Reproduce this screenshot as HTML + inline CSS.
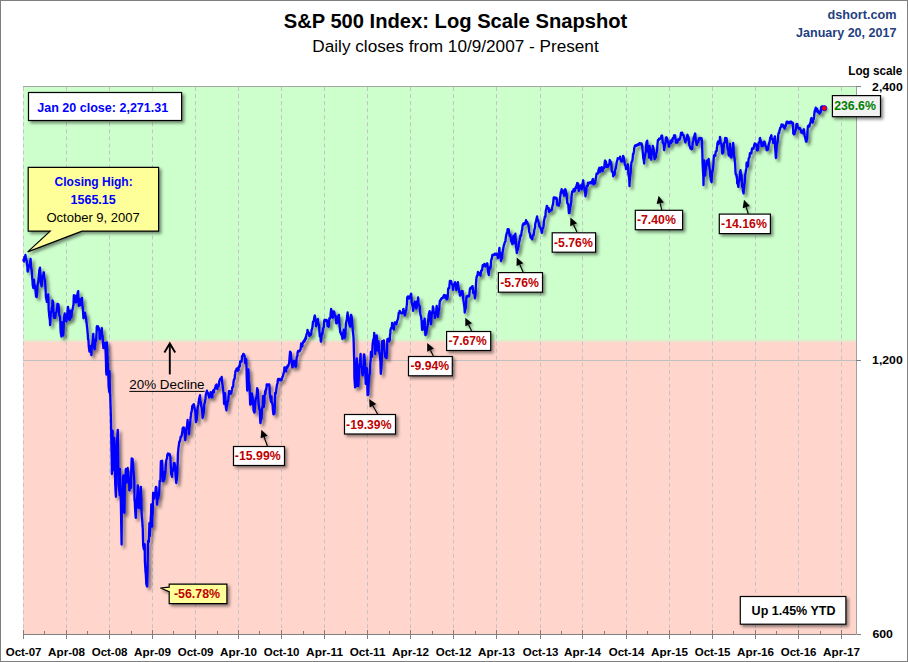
<!DOCTYPE html>
<html><head><meta charset="utf-8"><title>S&amp;P 500 Index: Log Scale Snapshot</title>
<style>
html,body{margin:0;padding:0;background:#fff;}
body{width:908px;height:662px;overflow:hidden;font-family:"Liberation Sans",sans-serif;}
svg{display:block;font-family:"Liberation Sans",sans-serif;}
</style></head><body>
<svg width="908" height="662" viewBox="0 0 908 662">
<defs>
<linearGradient id="bg" x1="0" y1="0" x2="0" y2="1">
<stop offset="0" stop-color="#CCFFCC"/><stop offset="0.4610" stop-color="#CCFFCC"/>
<stop offset="0.4683" stop-color="#FFD5CC"/><stop offset="1" stop-color="#FFD5CC"/>
</linearGradient>
<filter id="sh" x="-20%" y="-30%" width="150%" height="180%"><feDropShadow dx="2.2" dy="2.2" stdDeviation="1.6" flood-color="#000" flood-opacity="0.45"/></filter>
<filter id="lsh" x="-5%" y="-5%" width="110%" height="110%"><feDropShadow dx="2.6" dy="2.8" stdDeviation="1.7" flood-color="#000" flood-opacity="0.5"/></filter>
<filter id="ash" x="-50%" y="-50%" width="220%" height="220%"><feDropShadow dx="1.8" dy="1.8" stdDeviation="1.2" flood-color="#000" flood-opacity="0.35"/></filter>
<marker id="ah" viewBox="0 0 10 10" refX="8" refY="5" markerWidth="7" markerHeight="7" orient="auto-start-reverse" markerUnits="userSpaceOnUse"><path d="M0,0.5 L10,5 L0,9.5 L2.5,5 z" fill="#000"/></marker>
</defs>
<rect x="0" y="0" width="908" height="662" fill="#fff"/>
<rect x="0.5" y="0.5" width="907" height="661" fill="none" stroke="#7F7F7F" stroke-width="1"/>
<rect x="23" y="86" width="833.5" height="548.5" fill="url(#bg)"/>
<line x1="23" y1="360.5" x2="861" y2="360.5" stroke="#BFBFBF" stroke-width="1"/>
<g stroke="#C4C4C6" stroke-width="1" stroke-dasharray="4 3.07"><line x1="23.5" y1="87" x2="23.5" y2="634" /><line x1="66.5" y1="87" x2="66.5" y2="634" /><line x1="109.5" y1="87" x2="109.5" y2="634" /><line x1="152.5" y1="87" x2="152.5" y2="634" /><line x1="195.5" y1="87" x2="195.5" y2="634" /><line x1="238.5" y1="87" x2="238.5" y2="634" /><line x1="281.5" y1="87" x2="281.5" y2="634" /><line x1="324.5" y1="87" x2="324.5" y2="634" /><line x1="367.5" y1="87" x2="367.5" y2="634" /><line x1="410.5" y1="87" x2="410.5" y2="634" /><line x1="453.5" y1="87" x2="453.5" y2="634" /><line x1="496.5" y1="87" x2="496.5" y2="634" /><line x1="540.5" y1="87" x2="540.5" y2="634" /><line x1="582.5" y1="87" x2="582.5" y2="634" /><line x1="626.5" y1="87" x2="626.5" y2="634" /><line x1="669.5" y1="87" x2="669.5" y2="634" /><line x1="712.5" y1="87" x2="712.5" y2="634" /><line x1="755.5" y1="87" x2="755.5" y2="634" /><line x1="798.5" y1="87" x2="798.5" y2="634" /><line x1="841.5" y1="87" x2="841.5" y2="634" /></g>
<line x1="23" y1="86.5" x2="861" y2="86.5" stroke="#A6A6A6" stroke-width="1"/>
<line x1="23" y1="634.5" x2="861" y2="634.5" stroke="#808080" stroke-width="1"/>
<line x1="856.5" y1="86" x2="856.5" y2="635" stroke="#A0A0A0" stroke-width="1"/>
<line x1="856" y1="360.5" x2="861" y2="360.5" stroke="#808080" stroke-width="1"/><line x1="856" y1="86.5" x2="861" y2="86.5" stroke="#808080" stroke-width="1"/>
<g stroke="#808080" stroke-width="1"><line x1="23.5" y1="630" x2="23.5" y2="639"/><line x1="66.5" y1="630" x2="66.5" y2="639"/><line x1="109.5" y1="630" x2="109.5" y2="639"/><line x1="152.5" y1="630" x2="152.5" y2="639"/><line x1="195.5" y1="630" x2="195.5" y2="639"/><line x1="238.5" y1="630" x2="238.5" y2="639"/><line x1="281.5" y1="630" x2="281.5" y2="639"/><line x1="324.5" y1="630" x2="324.5" y2="639"/><line x1="367.5" y1="630" x2="367.5" y2="639"/><line x1="410.5" y1="630" x2="410.5" y2="639"/><line x1="453.5" y1="630" x2="453.5" y2="639"/><line x1="496.5" y1="630" x2="496.5" y2="639"/><line x1="540.5" y1="630" x2="540.5" y2="639"/><line x1="582.5" y1="630" x2="582.5" y2="639"/><line x1="626.5" y1="630" x2="626.5" y2="639"/><line x1="669.5" y1="630" x2="669.5" y2="639"/><line x1="712.5" y1="630" x2="712.5" y2="639"/><line x1="755.5" y1="630" x2="755.5" y2="639"/><line x1="798.5" y1="630" x2="798.5" y2="639"/><line x1="841.5" y1="630" x2="841.5" y2="639"/><line x1="44.5" y1="631" x2="44.5" y2="634.5"/><line x1="87.5" y1="631" x2="87.5" y2="634.5"/><line x1="131.5" y1="631" x2="131.5" y2="634.5"/><line x1="173.5" y1="631" x2="173.5" y2="634.5"/><line x1="217.5" y1="631" x2="217.5" y2="634.5"/><line x1="259.5" y1="631" x2="259.5" y2="634.5"/><line x1="303.5" y1="631" x2="303.5" y2="634.5"/><line x1="345.5" y1="631" x2="345.5" y2="634.5"/><line x1="389.5" y1="631" x2="389.5" y2="634.5"/><line x1="432.5" y1="631" x2="432.5" y2="634.5"/><line x1="475.5" y1="631" x2="475.5" y2="634.5"/><line x1="518.5" y1="631" x2="518.5" y2="634.5"/><line x1="561.5" y1="631" x2="561.5" y2="634.5"/><line x1="604.5" y1="631" x2="604.5" y2="634.5"/><line x1="647.5" y1="631" x2="647.5" y2="634.5"/><line x1="690.5" y1="631" x2="690.5" y2="634.5"/><line x1="733.5" y1="631" x2="733.5" y2="634.5"/><line x1="776.5" y1="631" x2="776.5" y2="634.5"/><line x1="820.5" y1="631" x2="820.5" y2="634.5"/></g>
<g font-size="10.8" font-weight="bold" fill="#000"><text x="23.6" y="655.6" text-anchor="middle" textLength="35.8" lengthAdjust="spacingAndGlyphs">Oct-07</text><text x="66.6" y="655.6" text-anchor="middle" textLength="37.0" lengthAdjust="spacingAndGlyphs">Apr-08</text><text x="109.6" y="655.6" text-anchor="middle" textLength="35.8" lengthAdjust="spacingAndGlyphs">Oct-08</text><text x="152.6" y="655.6" text-anchor="middle" textLength="37.0" lengthAdjust="spacingAndGlyphs">Apr-09</text><text x="195.6" y="655.6" text-anchor="middle" textLength="35.8" lengthAdjust="spacingAndGlyphs">Oct-09</text><text x="238.6" y="655.6" text-anchor="middle" textLength="37.0" lengthAdjust="spacingAndGlyphs">Apr-10</text><text x="281.6" y="655.6" text-anchor="middle" textLength="35.8" lengthAdjust="spacingAndGlyphs">Oct-10</text><text x="324.6" y="655.6" text-anchor="middle" textLength="37.0" lengthAdjust="spacingAndGlyphs">Apr-11</text><text x="367.6" y="655.6" text-anchor="middle" textLength="35.8" lengthAdjust="spacingAndGlyphs">Oct-11</text><text x="410.6" y="655.6" text-anchor="middle" textLength="37.0" lengthAdjust="spacingAndGlyphs">Apr-12</text><text x="453.6" y="655.6" text-anchor="middle" textLength="35.8" lengthAdjust="spacingAndGlyphs">Oct-12</text><text x="496.6" y="655.6" text-anchor="middle" textLength="37.0" lengthAdjust="spacingAndGlyphs">Apr-13</text><text x="540.6" y="655.6" text-anchor="middle" textLength="35.8" lengthAdjust="spacingAndGlyphs">Oct-13</text><text x="582.6" y="655.6" text-anchor="middle" textLength="37.0" lengthAdjust="spacingAndGlyphs">Apr-14</text><text x="626.6" y="655.6" text-anchor="middle" textLength="35.8" lengthAdjust="spacingAndGlyphs">Oct-14</text><text x="669.6" y="655.6" text-anchor="middle" textLength="37.0" lengthAdjust="spacingAndGlyphs">Apr-15</text><text x="712.6" y="655.6" text-anchor="middle" textLength="35.8" lengthAdjust="spacingAndGlyphs">Oct-15</text><text x="755.6" y="655.6" text-anchor="middle" textLength="37.0" lengthAdjust="spacingAndGlyphs">Apr-16</text><text x="798.6" y="655.6" text-anchor="middle" textLength="35.8" lengthAdjust="spacingAndGlyphs">Oct-16</text><text x="841.6" y="655.6" text-anchor="middle" textLength="37.0" lengthAdjust="spacingAndGlyphs">Apr-17</text></g>
<text x="455.5" y="28" text-anchor="middle" font-size="20" font-weight="bold" textLength="343.6" lengthAdjust="spacingAndGlyphs">S&amp;P 500 Index: Log Scale Snapshot</text>
<text x="455.5" y="51.8" text-anchor="middle" font-size="16.3" textLength="286.4" lengthAdjust="spacingAndGlyphs">Daily closes from 10/9/2007 - Present</text>
<g font-weight="bold" fill="#1F4080" font-size="12.5" text-anchor="end">
<text x="896.5" y="18.5" textLength="69" lengthAdjust="spacingAndGlyphs">dshort.com</text>
<text x="896.5" y="36.5" textLength="100.5" lengthAdjust="spacingAndGlyphs">January 20, 2017</text>
</g>
<g font-weight="bold" fill="#000" font-size="10.7">
<text x="848.3" y="75.2" font-size="12.3" textLength="54" lengthAdjust="spacingAndGlyphs">Log scale</text>
<text x="872.1" y="90.6" textLength="30.6" lengthAdjust="spacingAndGlyphs">2,400</text>
<text x="872.1" y="364.0" textLength="30.6" lengthAdjust="spacingAndGlyphs">1,200</text>
<text x="872.4" y="638.0" textLength="20.6" lengthAdjust="spacingAndGlyphs">600</text>
</g>
<polyline points="23.5,259.6 23.7,261.0 24.0,261.5 24.2,259.1 24.4,256.9 25.1,258.2 25.4,255.0 25.6,256.0 25.9,258.0 26.1,259.1 26.8,261.3 27.0,263.3 27.3,265.6 27.5,270.2 27.7,271.6 28.4,268.8 28.7,266.0 28.9,266.1 29.2,266.2 29.4,265.2 30.1,263.6 30.3,261.1 30.6,259.0 30.8,262.1 31.0,266.8 31.7,270.3 32.0,273.6 32.2,278.3 32.5,280.8 32.7,284.9 33.4,288.1 33.6,283.8 33.9,279.6 34.1,282.2 34.3,284.5 35.0,285.8 35.3,287.6 35.5,290.3 35.8,293.7 36.0,296.5 36.7,297.0 36.9,294.7 37.2,291.0 37.4,287.0 37.6,285.6 38.3,282.1 38.6,277.0 38.8,276.2 39.1,273.2 39.3,270.0 40.0,267.6 40.2,270.8 40.5,274.8 40.7,280.5 40.9,283.3 41.6,286.3 41.9,283.4 42.1,279.8 42.4,277.6 42.6,275.8 43.3,275.8 43.5,273.3 43.8,272.4 44.0,274.4 44.2,277.5 44.9,280.2 45.2,284.3 45.4,286.0 45.7,292.0 45.9,297.3 46.6,300.3 46.8,301.8 47.1,296.2 47.3,297.1 47.5,299.6 48.2,294.5 48.5,301.8 48.7,310.1 49.0,313.0 49.2,315.5 49.9,320.4 50.1,325.2 50.4,322.4 50.6,316.5 50.8,313.3 51.5,310.2 51.8,307.1 52.0,309.5 52.3,304.5 52.5,300.4 53.2,302.4 53.4,311.0 53.7,316.1 53.9,317.3 54.1,317.8 54.8,317.8 55.1,317.4 55.3,317.8 55.6,315.0 55.8,312.7 56.5,312.3 56.7,310.6 57.0,308.1 57.2,307.0 57.4,303.9 58.1,304.1 58.4,304.4 58.6,305.4 58.9,309.0 59.1,315.0 59.8,316.3 60.0,316.2 60.3,321.0 60.5,328.4 60.7,332.4 61.4,336.5 61.7,322.1 61.9,322.1 62.2,328.3 62.4,328.6 63.1,335.5 63.3,334.3 63.6,329.4 63.8,323.2 64.0,317.6 64.7,313.5 65.0,315.2 65.2,316.9 65.5,317.5 65.7,320.1 66.4,321.5 66.6,319.1 66.9,318.3 67.1,315.4 67.3,313.0 68.0,306.9 68.3,308.9 68.5,312.8 68.8,316.6 69.0,319.4 69.7,319.8 69.9,319.3 70.2,316.9 70.4,310.7 70.6,315.9 71.3,317.5 71.6,315.4 71.8,312.9 72.1,310.9 72.3,310.6 73.0,307.5 73.2,305.3 73.5,305.3 73.7,297.5 73.9,295.2 74.6,296.1 74.9,295.9 75.1,296.0 75.4,295.7 75.6,302.4 76.3,302.3 76.5,298.4 76.8,300.1 77.0,299.0 77.2,295.2 77.9,291.6 78.2,291.1 78.4,298.1 78.7,302.1 78.9,305.9 79.6,303.2 79.8,299.2 80.1,305.1 80.3,301.2 80.5,303.8 81.2,300.9 81.5,303.7 81.7,302.2 82.0,297.9 82.2,303.9 82.9,309.0 83.1,312.5 83.4,317.7 83.6,318.2 83.8,314.5 84.5,312.7 84.8,313.2 85.0,312.7 85.3,315.1 85.5,315.8 86.2,319.6 86.4,322.3 86.7,323.5 86.9,326.0 87.1,327.4 87.8,334.5 88.1,339.6 88.3,339.2 88.6,342.9 88.8,346.7 89.5,351.7 89.7,349.6 90.0,348.8 90.2,346.2 90.4,349.8 91.1,351.0 91.4,355.1 91.6,351.2 91.9,345.2 92.1,345.6 92.8,339.7 93.0,335.2 93.3,333.8 93.5,343.4 93.7,344.1 94.4,348.8 94.7,349.2 94.9,346.9 95.2,344.7 95.4,339.6 96.1,341.0 96.3,336.8 96.6,331.7 96.8,326.8 97.0,326.3 97.7,326.8 98.0,326.3 98.2,327.9 98.5,329.6 98.7,327.9 99.4,330.6 99.6,338.6 99.9,337.8 100.1,339.1 100.3,336.8 101.0,334.2 101.3,334.0 101.5,332.1 101.8,328.1 102.0,333.9 102.7,336.5 102.9,342.7 103.2,345.9 103.4,348.1 103.6,342.9 104.3,342.9 104.6,342.9 104.8,342.9 105.1,342.9 105.3,343.3 106.0,362.4 106.2,371.7 106.5,374.6 106.7,358.9 106.9,342.3 107.6,356.3 107.9,366.0 108.1,367.5 108.4,378.2 108.6,386.4 109.3,392.1 109.5,371.2 109.8,384.3 110.0,393.8 110.2,394.7 110.9,416.9 111.2,433.6 111.4,445.0 111.7,457.5 111.9,474.1 112.6,430.7 112.8,447.0 113.1,470.3 113.3,465.4 113.5,455.7 114.2,437.9 114.5,447.5 114.7,458.8 115.0,469.4 115.2,484.0 115.9,496.8 116.1,456.3 116.4,447.6 116.6,453.1 116.8,444.6 117.5,433.8 117.8,429.8 118.0,448.1 118.3,471.6 118.5,484.9 119.2,491.1 119.4,491.2 119.7,495.2 119.9,468.8 120.1,483.9 120.8,499.5 121.1,516.8 121.3,528.9 121.6,544.5 121.8,513.4 122.5,495.5 122.7,487.7 123.0,477.7 123.2,476.1 123.4,475.4 124.1,512.4 124.4,512.8 124.6,503.8 124.9,483.5 125.1,480.7 125.8,469.5 126.0,469.0 126.3,475.3 126.5,479.9 126.7,482.7 127.4,477.5 127.7,468.0 127.9,470.8 128.2,470.8 128.4,475.3 129.1,480.6 129.3,490.2 129.6,490.5 129.8,484.3 130.0,482.1 130.7,485.0 131.0,487.8 131.2,472.3 131.5,462.7 131.7,458.3 132.4,465.6 132.6,458.8 132.9,464.1 133.1,463.1 133.3,468.6 134.0,476.8 134.3,481.8 134.5,499.8 134.8,501.5 135.0,506.8 135.7,517.6 135.9,517.7 136.2,502.7 136.4,504.5 136.6,502.4 137.3,495.3 137.6,488.8 137.8,485.3 138.1,504.5 138.3,507.7 139.0,501.5 139.2,506.9 139.5,508.2 139.7,503.4 139.9,497.5 140.6,487.2 140.9,486.9 141.1,495.5 141.4,498.2 141.6,513.4 142.3,521.3 142.5,525.7 142.8,529.0 143.0,538.9 143.2,545.6 143.9,549.3 144.2,547.8 144.4,545.0 144.7,544.3 144.9,561.4 145.6,572.6 145.8,573.6 146.1,579.1 146.3,583.6 146.5,584.8 147.2,586.5 147.5,572.6 147.7,559.5 148.0,545.4 148.2,540.6 148.9,541.7 149.1,534.0 149.4,523.1 149.6,528.0 149.8,536.2 150.5,522.8 150.8,516.8 151.0,515.7 151.3,504.3 151.5,519.8 152.2,526.5 152.4,516.3 152.7,514.1 152.9,503.6 153.1,492.9 153.8,492.8 154.1,497.0 154.3,498.5 154.6,493.3 154.8,492.7 155.5,493.7 155.7,488.0 156.0,486.8 156.2,488.4 156.4,487.3 157.1,504.6 157.4,499.0 157.6,493.2 157.9,498.4 158.1,498.7 158.8,494.4 159.0,495.5 159.3,489.4 159.5,485.9 159.7,480.8 160.4,481.5 160.7,467.9 160.9,461.1 161.2,461.9 161.4,461.1 162.1,460.6 162.3,467.6 162.6,471.5 162.8,475.1 163.0,481.3 163.7,480.8 164.0,476.7 164.2,472.2 164.5,478.9 164.7,474.8 165.4,472.6 165.6,468.3 165.9,464.8 166.1,462.1 166.3,459.9 167.0,458.4 167.3,454.6 167.5,455.0 167.8,455.0 168.0,453.5 168.7,455.0 168.9,454.2 169.2,455.0 169.4,455.0 169.6,453.9 170.3,456.8 170.6,461.3 170.8,466.2 171.1,474.2 171.3,473.8 172.0,476.8 172.2,471.3 172.5,471.0 172.7,468.9 172.9,471.0 173.6,466.3 173.9,463.1 174.1,463.6 174.4,464.2 174.6,463.1 175.3,468.2 175.5,473.4 175.8,476.7 176.0,478.9 176.2,483.0 176.9,478.7 177.2,473.9 177.4,468.0 177.7,462.0 177.9,453.9 178.6,446.6 178.8,445.9 179.1,443.0 179.3,441.6 179.5,442.0 180.2,440.0 180.5,437.8 180.7,436.6 181.0,436.6 181.2,437.0 181.9,434.6 182.1,432.6 182.4,430.9 182.6,428.5 182.8,427.9 183.5,427.5 183.8,427.5 184.0,428.1 184.3,430.8 184.5,432.2 185.2,440.2 185.4,438.9 185.7,435.0 185.9,435.0 186.1,430.7 186.8,426.5 187.1,426.2 187.3,423.0 187.6,420.0 187.8,422.5 188.5,424.5 188.7,428.3 189.0,434.2 189.2,431.0 189.4,427.8 190.1,423.5 190.4,419.9 190.6,417.5 190.9,415.9 191.1,413.1 191.8,410.8 192.0,408.9 192.3,405.8 192.5,406.1 192.7,405.6 193.4,404.5 193.7,404.7 193.9,404.2 194.2,406.9 194.4,407.9 195.1,410.2 195.3,411.2 195.6,416.7 195.8,420.1 196.0,422.2 196.7,419.8 197.0,415.2 197.2,413.2 197.5,409.9 197.7,407.3 198.4,404.4 198.6,402.2 198.9,400.8 199.1,398.5 199.3,398.3 200.0,395.2 200.3,399.3 200.5,401.8 200.8,401.8 201.0,404.9 201.7,407.7 201.9,408.9 202.2,411.7 202.4,415.6 202.6,418.0 203.3,415.5 203.6,412.8 203.8,412.0 204.1,408.0 204.3,404.1 205.0,402.3 205.2,400.2 205.5,398.9 205.7,395.3 205.9,394.5 206.6,391.8 206.9,390.7 207.1,392.7 207.4,392.9 207.6,392.3 208.3,393.5 208.5,395.5 208.8,395.5 209.0,396.7 209.2,397.5 209.9,395.6 210.2,394.2 210.4,395.0 210.7,392.1 210.9,392.3 211.6,393.8 211.8,397.3 212.1,396.1 212.3,397.1 212.5,393.5 213.2,390.5 213.5,390.8 213.7,391.5 214.0,392.3 214.2,389.5 214.9,388.8 215.1,387.7 215.4,386.8 215.6,385.7 215.8,385.8 216.5,384.5 216.8,387.4 217.0,388.4 217.3,389.0 217.5,387.4 218.2,386.6 218.4,386.8 218.7,385.5 218.9,385.1 219.1,382.0 219.8,380.0 220.1,379.1 220.3,378.7 220.6,378.6 220.8,378.8 221.5,378.2 221.7,376.8 222.0,379.9 222.2,383.1 222.4,384.2 223.1,389.0 223.4,392.8 223.6,393.0 223.9,399.3 224.1,403.9 224.8,398.5 225.0,393.2 225.3,397.1 225.5,401.9 225.7,405.9 226.4,410.3 226.7,406.6 226.9,406.5 227.2,405.0 227.4,402.4 228.1,401.1 228.3,399.8 228.6,396.3 228.8,394.6 229.0,391.1 229.7,391.2 230.0,391.8 230.2,392.2 230.4,393.4 230.7,393.8 231.4,392.8 231.6,391.0 231.9,390.5 232.1,389.4 232.3,387.2 233.0,387.1 233.3,385.1 233.5,381.4 233.7,381.0 234.0,379.5 234.7,378.5 234.9,375.3 235.2,373.7 235.4,371.3 235.6,371.0 236.3,369.8 236.6,368.6 236.8,370.7 237.0,369.3 237.3,368.3 238.0,370.7 238.2,369.9 238.5,370.2 238.7,368.2 238.9,366.2 239.6,366.7 239.9,365.5 240.1,362.1 240.3,361.4 240.6,361.3 241.3,361.6 241.5,361.7 241.8,359.8 242.0,356.2 242.2,355.8 242.9,355.7 243.2,353.9 243.4,353.9 243.6,354.9 243.9,354.3 244.6,355.8 244.8,359.2 245.1,362.8 245.3,360.5 245.5,358.8 246.2,359.2 246.5,367.3 246.7,376.0 246.9,382.6 247.2,390.5 247.9,384.1 248.1,378.3 248.4,369.4 248.6,373.0 248.8,380.4 249.5,385.2 249.8,393.3 250.0,399.8 250.2,404.7 250.5,403.4 251.2,403.4 251.4,403.9 251.7,396.8 251.9,393.3 252.1,395.1 252.8,398.3 253.1,399.3 253.3,403.6 253.5,409.6 253.8,411.3 254.5,412.6 254.7,410.7 255.0,405.7 255.2,403.3 255.4,401.5 256.1,397.4 256.4,397.7 256.6,396.1 256.8,393.0 257.1,388.2 257.8,389.7 258.0,393.4 258.3,399.2 258.5,403.0 258.7,403.8 259.4,409.7 259.7,409.1 259.9,414.8 260.1,419.2 260.4,423.2 261.1,417.9 261.3,417.4 261.6,418.7 261.8,414.2 262.0,409.4 262.7,404.9 263.0,396.1 263.2,400.3 263.4,404.5 263.7,407.2 264.4,402.6 264.6,395.2 264.9,394.1 265.1,391.1 265.3,394.6 266.0,389.0 266.3,389.5 266.5,387.3 266.7,384.3 267.0,384.3 267.7,384.3 267.9,384.3 268.2,384.7 268.4,385.2 268.6,384.6 269.3,384.5 269.6,388.4 269.8,392.7 270.0,394.7 270.3,397.6 271.0,401.9 271.2,398.3 271.5,396.5 271.7,402.3 271.9,402.5 272.6,404.8 272.9,410.2 273.1,411.2 273.3,413.8 273.6,414.3 274.3,413.8 274.5,413.0 274.8,405.1 275.0,398.5 275.2,392.8 275.9,393.3 276.2,390.5 276.4,388.7 276.6,387.6 276.9,385.1 277.6,383.2 277.8,380.0 278.1,379.0 278.3,378.9 278.5,380.2 279.2,379.3 279.5,379.4 279.7,378.9 279.9,379.9 280.2,380.3 280.9,379.8 281.1,380.3 281.4,380.3 281.6,379.9 281.8,378.9 282.5,376.5 282.8,376.5 283.0,375.4 283.2,374.6 283.5,373.6 284.2,371.3 284.4,367.3 284.7,367.3 284.9,368.9 285.1,369.0 285.8,371.2 286.1,371.4 286.3,369.5 286.5,368.6 286.8,366.8 287.5,367.6 287.7,365.4 288.0,366.3 288.2,366.0 288.4,365.5 289.1,363.4 289.4,359.7 289.6,357.0 289.8,354.9 290.1,351.6 290.8,352.6 291.0,355.7 291.3,358.3 291.5,359.8 291.7,362.6 292.4,367.4 292.7,367.2 292.9,362.9 293.1,364.1 293.4,362.7 294.1,360.7 294.3,360.7 294.6,361.1 294.8,362.8 295.0,365.4 295.7,366.6 296.0,366.5 296.2,363.9 296.4,361.3 296.7,357.3 297.4,355.9 297.6,352.2 297.9,352.1 298.1,350.9 298.3,351.1 299.0,351.6 299.3,351.4 299.5,350.8 299.7,351.0 300.0,350.3 300.7,348.7 300.9,346.4 301.2,343.5 301.4,343.9 301.6,343.8 302.3,346.3 302.6,343.2 302.8,343.5 303.0,342.8 303.3,341.5 304.0,341.9 304.2,340.7 304.5,339.8 304.7,341.2 304.9,339.9 305.6,337.4 305.9,338.9 306.1,336.9 306.3,335.6 306.6,334.1 307.3,332.5 307.5,329.9 307.8,331.3 308.0,331.2 308.2,332.8 308.9,332.9 309.2,335.1 309.4,336.1 309.6,335.1 309.9,335.6 310.6,334.5 310.8,334.7 311.1,334.5 311.3,332.9 311.5,330.4 312.2,328.5 312.5,326.5 312.7,325.3 312.9,322.2 313.2,321.4 313.9,320.8 314.1,318.4 314.4,317.0 314.6,316.0 314.8,315.5 315.5,319.7 315.8,322.7 316.0,326.1 316.2,326.3 316.5,324.3 317.2,322.6 317.4,322.5 317.7,320.1 317.9,319.1 318.1,322.5 318.8,324.5 319.1,325.9 319.3,329.8 319.5,332.3 319.8,336.5 320.5,336.5 320.7,340.2 321.0,341.7 321.2,340.6 321.4,337.6 322.1,332.7 322.4,334.1 322.6,332.7 322.8,330.1 323.1,328.3 323.8,327.2 324.0,322.4 324.3,320.4 324.5,320.6 324.7,319.6 325.4,321.1 325.7,320.6 325.9,321.1 326.1,321.1 326.4,319.9 327.1,320.5 327.3,323.0 327.6,326.0 327.8,325.2 328.0,325.0 328.7,326.8 329.0,323.7 329.2,321.0 329.4,318.2 329.7,319.1 330.4,317.5 330.6,314.4 330.9,311.4 331.1,309.0 331.3,309.5 332.0,312.1 332.3,314.3 332.5,313.8 332.7,317.8 333.0,316.4 333.7,314.4 333.9,311.3 334.2,313.0 334.4,312.6 334.6,314.8 335.3,315.5 335.6,317.3 335.8,318.2 336.0,320.2 336.3,323.4 337.0,323.1 337.2,321.3 337.5,320.6 337.7,318.9 337.9,316.2 338.6,316.1 338.9,314.8 339.1,318.1 339.3,321.4 339.6,325.8 340.3,332.6 340.5,332.1 340.8,332.4 341.0,333.3 341.2,334.6 341.9,335.2 342.2,336.7 342.4,339.0 342.6,336.7 342.9,334.1 343.6,331.6 343.8,329.7 344.1,331.7 344.3,336.2 344.5,338.1 345.2,336.3 345.5,332.7 345.7,327.8 345.9,324.4 346.2,322.2 346.9,319.0 347.1,315.7 347.4,314.8 347.6,312.5 347.8,314.8 348.5,318.0 348.8,320.4 349.0,322.0 349.2,323.6 349.5,324.9 350.2,326.7 350.4,323.9 350.7,320.6 350.9,317.7 351.1,314.9 351.8,317.5 352.1,322.0 352.3,324.8 352.5,327.1 352.8,330.7 353.5,337.5 353.7,342.6 354.0,354.7 354.2,360.0 354.4,377.4 355.1,387.4 355.4,369.2 355.6,387.0 355.8,369.6 356.1,368.1 356.8,358.5 357.0,362.7 357.3,369.3 357.5,373.4 357.7,386.0 358.4,385.9 358.7,380.1 358.9,375.3 359.1,372.3 359.4,365.6 360.1,362.4 360.3,357.0 360.6,353.8 360.8,363.1 361.0,365.6 361.7,367.3 362.0,367.4 362.2,372.4 362.4,374.9 362.7,375.4 363.4,371.1 363.6,363.5 363.9,354.3 364.1,354.3 364.3,354.8 365.0,362.6 365.3,368.3 365.5,375.9 365.7,383.9 366.0,380.1 366.7,376.6 366.9,368.2 367.2,376.7 367.4,387.9 367.6,395.1 368.3,394.7 368.6,384.5 368.8,382.4 369.0,380.4 369.3,375.4 370.0,373.5 370.2,365.2 370.5,361.2 370.7,360.3 370.9,352.0 371.6,355.0 371.9,355.5 372.1,356.8 372.3,351.3 372.6,344.0 373.3,339.7 373.5,339.0 373.8,339.4 374.0,337.0 374.2,332.9 374.9,343.6 375.2,354.0 375.4,346.8 375.6,341.0 375.9,338.0 376.6,335.3 376.8,335.8 377.1,350.5 377.3,347.3 377.5,343.9 378.2,342.6 378.5,341.4 378.7,343.7 378.9,348.8 379.2,351.7 379.9,355.0 380.1,359.5 380.4,360.7 380.6,367.6 380.8,373.8 381.5,366.6 381.8,359.3 382.0,344.8 382.2,341.2 382.5,342.9 383.2,342.9 383.4,341.1 383.7,340.4 383.9,340.6 384.1,348.3 384.8,354.2 385.1,356.6 385.3,356.1 385.5,355.7 385.8,357.6 386.5,358.2 386.7,355.0 387.0,352.3 387.2,342.4 387.4,339.1 388.1,341.4 388.4,338.6 388.6,338.6 388.8,338.6 389.1,341.5 389.8,340.2 390.0,335.2 390.3,333.3 390.5,329.4 390.7,329.1 391.4,327.6 391.7,328.2 391.9,326.9 392.1,322.9 392.4,327.3 393.1,327.5 393.3,326.8 393.6,328.6 393.8,329.5 394.0,327.1 394.7,322.3 395.0,322.3 395.2,322.3 395.4,322.8 395.7,322.4 396.4,324.4 396.6,322.8 396.9,322.6 397.1,321.0 397.3,320.7 398.0,318.9 398.3,316.6 398.5,314.9 398.7,312.9 399.0,313.3 399.7,310.9 399.9,311.2 400.2,313.0 400.4,312.6 400.6,313.0 401.3,313.3 401.6,313.3 401.8,312.7 402.0,313.3 402.3,313.2 403.0,310.7 403.2,309.3 403.5,308.9 403.7,310.6 403.9,312.6 404.6,314.5 404.9,315.4 405.1,313.1 405.3,313.8 405.6,311.4 406.3,310.1 406.5,306.9 406.8,305.2 407.0,302.6 407.2,297.4 407.9,296.3 408.2,296.3 408.4,296.7 408.6,298.3 408.9,298.6 409.6,297.4 409.8,296.7 410.1,297.7 410.3,298.1 410.5,295.0 411.2,293.7 411.5,298.0 411.7,301.4 411.9,303.5 412.2,304.8 412.9,307.3 413.1,310.9 413.4,309.8 413.6,306.5 413.8,303.7 414.5,303.2 414.8,301.7 415.0,302.5 415.2,303.7 415.5,305.6 416.2,308.5 416.4,307.3 416.7,307.5 416.9,304.0 417.1,301.4 417.8,301.1 418.1,297.4 418.3,299.0 418.5,304.2 418.8,304.5 419.5,306.1 419.7,306.1 420.0,310.4 420.2,312.4 420.4,314.6 421.1,317.0 421.4,319.5 421.6,320.8 421.8,325.5 422.1,329.8 422.8,329.6 423.0,328.2 423.3,326.9 423.5,324.4 423.7,321.9 424.4,319.8 424.7,318.6 424.9,325.2 425.1,330.0 425.4,335.1 426.1,333.9 426.3,333.3 426.6,330.3 426.8,330.1 427.0,328.2 427.7,325.7 428.0,323.4 428.2,319.7 428.4,318.5 428.7,314.6 429.4,311.7 429.6,311.1 429.9,313.6 430.1,318.2 430.3,319.9 431.0,324.2 431.3,321.5 431.5,318.2 431.7,315.7 432.0,312.5 432.7,310.3 432.9,306.5 433.2,307.5 433.4,308.3 433.6,313.0 434.3,312.5 434.6,313.6 434.8,317.0 435.0,317.9 435.3,315.4 436.0,312.0 436.2,311.5 436.5,307.5 436.7,305.8 436.9,307.6 437.6,312.8 437.9,316.9 438.1,315.5 438.3,315.0 438.6,311.7 439.3,308.6 439.5,304.7 439.8,301.6 440.0,300.5 440.2,300.8 440.9,299.7 441.2,298.7 441.4,299.1 441.6,298.6 441.9,298.0 442.6,298.1 442.8,297.7 443.1,297.7 443.3,297.3 443.5,296.1 444.2,294.9 444.5,295.4 444.7,297.7 444.9,296.3 445.2,296.5 445.9,295.5 446.1,298.0 446.4,298.8 446.6,299.2 446.8,299.4 447.5,298.3 447.8,295.7 448.0,292.5 448.2,288.7 448.5,288.1 449.2,288.3 449.4,285.9 449.7,282.9 449.9,280.9 450.1,280.9 450.8,281.1 451.1,281.2 451.3,281.6 451.5,283.4 451.8,284.2 452.5,284.3 452.7,286.2 453.0,289.8 453.2,288.4 453.4,286.8 454.1,285.9 454.4,283.8 454.6,283.6 454.8,282.8 455.1,282.2 455.8,284.9 456.0,286.2 456.3,290.0 456.5,287.5 456.7,285.7 457.4,284.9 457.7,284.3 457.9,282.2 458.1,284.7 458.4,287.0 459.1,290.6 459.3,292.1 459.6,292.6 459.8,294.1 460.0,295.7 460.7,294.8 461.0,293.5 461.2,294.2 461.4,291.6 461.7,291.0 462.4,291.3 462.6,291.1 462.9,295.4 463.1,297.5 463.3,299.4 464.0,304.4 464.3,306.4 464.5,308.5 464.7,312.5 465.0,310.7 465.7,307.9 465.9,305.0 466.2,300.8 466.4,297.6 466.6,296.5 467.3,295.9 467.6,296.8 467.8,295.9 468.0,295.9 468.3,296.0 469.0,296.4 469.2,296.0 469.5,293.2 469.7,291.0 469.9,289.1 470.6,287.6 470.9,288.6 471.1,288.1 471.3,287.8 471.6,287.9 472.3,286.2 472.5,286.1 472.8,287.7 473.0,289.7 473.2,293.0 473.9,292.9 474.2,291.8 474.4,292.3 474.6,294.2 474.9,298.4 475.6,293.4 475.8,287.0 476.1,281.8 476.3,280.0 476.5,277.5 477.2,275.5 477.5,275.5 477.7,273.5 477.9,271.9 478.2,273.3 478.9,273.3 479.1,274.6 479.4,274.1 479.6,272.8 479.8,273.6 480.5,275.7 480.8,273.4 481.0,272.4 481.2,270.5 481.5,271.0 482.2,269.9 482.4,267.5 482.7,265.2 482.9,265.7 483.1,265.6 483.8,266.1 484.1,265.1 484.3,264.0 484.5,264.2 484.8,266.3 485.5,265.6 485.7,266.5 486.0,266.0 486.2,265.9 486.4,264.1 487.1,263.3 487.4,263.7 487.6,266.8 487.8,267.9 488.1,272.1 488.8,275.0 489.0,272.2 489.3,269.2 489.5,267.3 489.7,267.7 490.4,268.1 490.7,266.4 490.9,264.7 491.1,260.0 491.4,259.9 492.1,257.1 492.3,255.0 492.6,255.7 492.8,255.5 493.0,254.9 493.7,255.2 494.0,255.0 494.2,254.1 494.4,254.8 494.7,253.8 495.4,254.3 495.6,254.6 495.9,253.6 496.1,254.0 496.3,254.7 497.0,253.8 497.3,254.9 497.5,256.2 497.7,256.4 498.0,258.0 498.7,254.0 498.9,253.2 499.2,249.8 499.4,247.9 499.6,252.2 500.3,253.2 500.6,257.6 500.8,258.6 501.0,261.0 501.3,258.0 502.0,258.2 502.2,255.6 502.5,252.6 502.7,251.7 502.9,250.8 503.6,246.5 503.9,245.2 504.1,244.6 504.3,244.4 504.6,242.7 505.3,241.4 505.5,240.4 505.8,237.3 506.0,236.8 506.2,235.3 506.9,232.6 507.2,233.0 507.4,230.8 507.6,229.1 507.9,229.1 508.6,229.1 508.8,229.6 509.1,232.6 509.3,232.7 509.5,235.8 510.2,235.9 510.5,234.7 510.7,237.5 510.9,238.6 511.2,241.7 511.9,241.4 512.1,243.1 512.4,244.1 512.6,241.4 512.8,238.0 513.5,235.8 513.8,239.2 514.0,243.2 514.2,239.7 514.5,237.9 515.2,234.5 515.4,233.7 515.7,239.2 515.9,241.6 516.1,246.4 516.8,253.0 517.1,250.8 517.3,250.1 517.5,250.4 517.8,249.5 518.5,246.6 518.7,244.3 519.0,242.5 519.2,241.8 519.4,241.4 520.1,237.8 520.4,235.6 520.6,235.0 520.8,235.9 521.1,235.8 521.8,230.7 522.0,230.4 522.3,228.6 522.5,226.5 522.7,224.9 523.4,223.4 523.7,224.7 523.9,224.7 524.1,223.5 524.4,224.3 525.1,222.4 525.3,223.8 525.6,223.4 525.8,222.2 526.0,220.1 526.7,222.1 527.0,221.9 527.2,221.9 527.4,223.5 527.7,223.4 528.4,225.1 528.6,226.7 528.9,227.3 529.1,231.4 529.3,232.1 530.0,233.9 530.3,236.3 530.5,237.4 530.7,236.9 531.0,237.9 531.7,236.8 531.9,238.8 532.2,239.3 532.4,237.5 532.6,236.5 533.3,234.7 533.6,235.3 533.8,233.7 534.0,232.9 534.3,230.0 535.0,227.8 535.2,224.2 535.5,222.9 535.7,222.1 535.9,221.9 536.6,218.3 536.9,217.2 537.1,216.4 537.3,218.1 537.6,219.1 538.3,221.2 538.5,222.1 538.8,223.3 539.0,224.5 539.2,226.2 539.9,226.6 540.2,227.7 540.4,228.1 540.6,228.2 540.9,228.3 541.6,231.6 541.8,232.8 542.1,231.8 542.3,228.8 542.5,228.9 543.2,227.8 543.5,226.2 543.7,224.6 543.9,221.3 544.2,219.9 544.9,216.6 545.1,216.5 545.4,216.9 545.6,213.3 545.8,210.7 546.5,208.1 546.8,205.9 547.0,205.9 547.2,208.0 547.5,207.3 548.2,208.6 548.4,207.9 548.7,208.3 548.9,211.5 549.1,212.0 549.8,210.9 550.1,210.6 550.3,210.7 550.5,210.0 550.8,210.1 551.5,210.4 551.7,209.9 552.0,209.3 552.2,206.9 552.4,206.4 553.1,203.6 553.4,200.8 553.6,198.1 553.8,197.4 554.1,197.4 554.8,197.4 555.0,197.4 555.3,198.5 555.5,198.6 555.7,198.6 556.4,197.9 556.7,198.4 556.9,200.2 557.1,203.9 557.4,205.2 558.1,204.4 558.3,204.4 558.6,204.6 558.8,205.7 559.0,204.0 559.7,202.8 560.0,198.1 560.2,196.7 560.4,195.6 560.7,192.3 561.4,190.8 561.6,189.2 561.9,190.9 562.1,192.8 562.3,192.0 563.0,191.8 563.3,190.7 563.5,192.3 563.7,193.4 564.0,195.7 564.7,195.5 564.9,193.7 565.2,189.2 565.4,189.8 565.6,189.9 566.3,193.1 566.6,193.7 566.8,196.6 567.0,199.6 567.3,203.3 568.0,203.8 568.2,204.1 568.5,207.3 568.7,210.7 568.9,213.2 569.6,212.7 569.9,208.9 570.1,207.2 570.3,207.1 570.6,205.6 571.3,201.6 571.5,196.7 571.8,194.6 572.0,193.1 572.2,191.3 572.9,191.8 573.2,190.9 573.4,191.4 573.6,189.2 573.9,190.6 574.6,191.4 574.8,190.1 575.1,190.3 575.3,188.4 575.5,187.5 576.2,188.2 576.5,186.5 576.7,184.6 576.9,186.2 577.2,183.0 577.9,183.4 578.1,183.6 578.4,187.1 578.6,189.2 578.8,190.8 579.5,187.4 579.8,187.3 580.0,186.4 580.2,187.1 580.5,185.4 581.2,185.4 581.4,188.1 581.7,189.3 581.9,189.1 582.1,185.1 582.8,182.2 583.1,180.7 583.3,180.2 583.5,183.6 583.8,186.7 584.5,188.7 584.7,190.9 585.0,190.9 585.2,192.7 585.4,196.3 586.1,192.3 586.4,189.1 586.6,187.0 586.8,186.0 587.1,186.4 587.8,185.8 588.0,182.6 588.3,183.4 588.5,183.4 588.7,183.4 589.4,183.4 589.7,183.4 589.9,183.4 590.1,182.2 590.4,183.4 591.1,182.3 591.3,183.4 591.6,182.9 591.8,182.1 592.0,181.2 592.7,179.4 593.0,178.9 593.2,181.5 593.4,184.4 593.7,183.4 594.4,183.3 594.6,183.5 594.9,183.3 595.1,182.8 595.3,182.0 596.0,177.2 596.3,175.6 596.5,173.7 596.7,174.0 597.0,174.1 597.7,173.7 597.9,172.6 598.2,173.1 598.4,170.2 598.6,170.1 599.3,167.8 599.6,171.4 599.8,172.0 600.0,172.1 600.3,171.1 601.0,169.5 601.2,168.3 601.5,167.2 601.7,168.9 601.9,169.0 602.6,171.2 602.9,169.6 603.1,168.4 603.3,167.8 603.6,168.1 604.3,168.0 604.5,164.8 604.8,161.7 605.0,161.0 605.2,160.5 605.9,162.0 606.2,164.9 606.4,165.9 606.6,166.9 606.9,166.9 607.6,166.9 607.8,165.0 608.1,166.2 608.3,166.4 608.5,165.3 609.2,164.6 609.5,162.7 609.7,160.0 609.9,160.5 610.2,160.9 610.9,162.0 611.1,162.2 611.4,164.9 611.6,167.8 611.8,171.6 612.5,171.6 612.8,172.0 613.0,172.6 613.2,176.4 613.5,175.3 614.2,174.7 614.4,174.9 614.7,174.5 614.9,172.1 615.1,169.8 615.8,168.2 616.1,166.0 616.3,165.2 616.5,163.5 616.8,161.9 617.5,159.6 617.7,158.1 618.0,158.5 618.2,158.5 618.4,158.5 619.1,158.5 619.4,158.5 619.6,158.5 619.8,157.6 620.1,156.6 620.8,160.2 621.0,161.0 621.3,161.5 621.5,160.7 621.7,160.6 622.4,161.2 622.7,160.2 622.9,158.8 623.1,155.8 623.4,156.4 624.1,159.1 624.3,160.8 624.6,162.6 624.8,163.8 625.0,164.7 625.7,166.3 626.0,169.2 626.2,168.9 626.4,166.8 626.7,167.0 627.4,165.7 627.6,165.1 627.9,164.3 628.1,168.1 628.3,173.6 629.0,177.4 629.3,180.6 629.5,186.2 629.7,181.6 630.0,176.9 630.7,172.5 630.9,167.8 631.2,164.8 631.4,163.2 631.6,162.0 632.3,161.0 632.6,158.8 632.8,156.8 633.0,154.0 633.3,154.5 634.0,151.2 634.2,148.0 634.5,147.8 634.7,146.6 634.9,145.8 635.6,145.1 635.9,145.1 636.1,145.0 636.3,145.9 636.6,145.4 637.3,145.1 637.5,144.5 637.7,145.3 638.0,145.0 638.2,144.7 638.9,143.6 639.2,144.7 639.4,143.9 639.6,143.1 639.9,143.0 640.6,143.7 640.8,144.4 641.0,144.4 641.3,144.4 641.5,143.4 642.2,146.1 642.5,149.5 642.7,151.5 642.9,153.7 643.2,157.4 643.9,160.9 644.1,163.5 644.3,159.7 644.6,158.2 644.8,156.6 645.5,153.0 645.8,151.6 646.0,148.5 646.2,145.0 646.5,142.2 647.2,140.6 647.4,143.2 647.6,146.1 647.9,148.2 648.1,151.8 648.8,152.9 649.1,157.6 649.3,151.9 649.5,146.0 649.8,147.7 650.5,151.5 650.7,153.8 650.9,157.5 651.2,159.5 651.4,155.0 652.1,153.2 652.4,150.4 652.6,149.3 652.8,145.8 653.1,147.0 653.8,149.8 654.0,154.1 654.2,156.4 654.5,157.7 654.7,159.1 655.4,156.5 655.7,157.4 655.9,156.8 656.1,153.4 656.4,153.5 657.1,150.5 657.3,146.5 657.5,144.0 657.8,141.1 658.0,140.0 658.7,140.1 659.0,138.7 659.2,139.1 659.4,139.2 659.7,138.5 660.4,138.8 660.6,138.6 660.8,138.2 661.1,138.3 661.3,136.0 662.0,135.5 662.3,137.3 662.5,139.5 662.7,142.3 663.0,142.5 663.7,144.2 663.9,147.5 664.1,150.2 664.4,148.3 664.6,146.8 665.3,143.3 665.6,142.8 665.8,140.1 666.0,137.8 666.3,137.3 667.0,138.1 667.2,139.1 667.4,139.3 667.7,140.8 667.9,141.2 668.6,144.3 668.9,146.6 669.1,146.4 669.3,144.2 669.6,143.4 670.3,143.3 670.5,141.0 670.7,142.9 671.0,143.1 671.2,141.3 671.9,139.6 672.2,140.1 672.4,141.7 672.6,139.0 672.9,137.9 673.6,138.2 673.8,137.3 674.0,135.3 674.3,137.8 674.5,135.5 675.2,135.5 675.5,139.3 675.7,139.3 675.9,142.6 676.2,142.1 676.9,142.6 677.1,140.7 677.3,142.5 677.6,141.8 677.8,139.7 678.5,139.7 678.8,139.9 679.0,139.7 679.2,139.0 679.5,139.7 680.2,138.3 680.4,136.8 680.6,136.0 680.9,133.0 681.1,133.6 681.8,132.6 682.1,132.9 682.3,132.6 682.5,134.8 682.8,134.7 683.5,135.1 683.7,135.9 683.9,136.9 684.2,137.5 684.4,138.6 685.1,141.6 685.4,142.5 685.6,141.7 685.8,140.9 686.1,140.8 686.8,139.4 687.0,136.9 687.2,135.7 687.5,134.8 687.7,135.7 688.4,137.1 688.7,138.6 688.9,139.7 689.1,142.8 689.4,145.6 690.1,146.8 690.3,148.0 690.5,148.6 690.8,148.5 691.0,148.4 691.7,149.2 692.0,148.3 692.2,148.9 692.4,146.2 692.7,142.9 693.4,140.2 693.6,137.4 693.8,137.1 694.1,137.0 694.3,136.0 695.0,133.5 695.3,133.6 695.5,137.2 695.7,138.8 696.0,141.9 696.7,144.9 696.9,144.9 697.1,143.6 697.4,143.0 697.6,141.1 698.3,142.0 698.6,140.4 698.8,138.8 699.0,138.7 699.3,138.1 700.0,138.8 700.2,139.3 700.4,139.3 700.7,139.3 700.9,137.9 701.6,138.3 701.9,140.8 702.1,146.1 702.3,151.1 702.6,163.9 703.3,176.1 703.5,185.1 703.7,175.8 704.0,170.0 704.2,160.3 704.9,167.8 705.2,175.5 705.4,170.9 705.6,170.0 705.9,167.4 706.6,164.4 706.8,164.5 707.0,160.6 707.3,161.7 707.5,162.6 708.2,160.0 708.5,160.4 708.7,159.0 708.9,164.2 709.2,166.0 709.9,170.2 710.1,171.6 710.3,176.5 710.6,177.7 710.8,180.2 711.5,182.2 711.8,177.8 712.0,173.1 712.2,171.1 712.5,171.5 713.2,167.0 713.4,164.3 713.6,160.7 713.9,155.4 714.1,155.9 714.8,155.9 715.1,155.8 715.3,155.8 715.5,153.2 715.8,151.5 716.5,151.0 716.7,150.9 716.9,147.3 717.2,146.6 717.4,143.5 718.1,141.5 718.4,144.0 718.6,144.0 718.8,143.9 719.1,142.1 719.8,139.6 720.0,136.9 720.2,137.3 720.5,140.3 720.7,143.0 721.4,143.8 721.7,146.9 721.9,147.2 722.1,152.5 722.4,153.6 723.1,151.5 723.3,152.8 723.5,148.5 723.8,145.5 724.0,143.1 724.7,142.7 725.0,141.2 725.2,137.8 725.4,137.8 725.7,139.2 726.4,138.4 726.6,138.3 726.8,140.4 727.1,143.0 727.3,146.6 728.0,150.1 728.3,150.0 728.5,154.6 728.7,152.7 729.0,155.6 729.7,153.9 729.9,148.7 730.1,143.9 730.4,152.1 730.6,157.0 731.3,157.5 731.6,157.2 731.8,152.6 732.0,150.6 732.3,150.6 733.0,147.1 733.2,142.9 733.4,144.5 733.7,149.5 733.9,154.8 734.6,158.7 734.9,161.9 735.1,163.1 735.3,168.2 735.6,173.8 736.3,175.4 736.5,174.6 736.7,177.8 737.0,176.8 737.2,183.5 737.9,183.5 738.2,186.3 738.4,186.9 738.6,182.7 738.9,182.1 739.6,179.4 739.8,176.1 740.0,172.1 740.3,171.0 740.5,170.1 741.2,176.6 741.5,174.7 741.7,177.9 741.9,181.2 742.2,186.9 742.9,188.1 743.1,192.0 743.3,192.1 743.6,193.4 743.8,189.2 744.5,183.6 744.8,181.6 745.0,178.0 745.2,175.0 745.5,173.2 746.2,169.0 746.4,167.4 746.6,162.7 746.9,167.2 747.1,166.6 747.8,166.4 748.1,165.4 748.3,162.7 748.5,160.0 748.8,158.1 749.5,157.2 749.7,155.1 749.9,153.1 750.2,154.0 750.4,152.9 751.1,153.2 751.4,153.3 751.6,151.6 751.8,150.0 752.1,148.4 752.8,148.9 753.0,148.9 753.2,148.9 753.5,148.7 753.7,147.3 754.4,144.5 754.7,143.5 754.9,143.5 755.1,143.5 755.4,143.9 756.1,145.3 756.3,144.4 756.5,145.3 756.8,149.9 757.0,150.3 757.7,150.3 758.0,148.8 758.2,147.6 758.4,146.0 758.7,142.4 759.4,142.3 759.6,142.1 759.8,138.3 760.1,137.9 760.3,139.0 761.0,141.6 761.3,143.7 761.5,146.2 761.7,146.2 762.0,146.2 762.7,145.5 762.9,145.7 763.1,145.5 763.4,145.4 763.6,141.8 764.3,143.1 764.6,141.7 764.8,143.1 765.0,143.7 765.3,145.6 766.0,146.3 766.2,146.7 766.4,148.3 766.7,150.2 766.9,149.6 767.6,150.0 767.9,149.4 768.1,148.9 768.3,147.8 768.6,145.2 769.3,142.6 769.5,142.3 769.7,140.7 770.0,139.4 770.2,137.6 770.9,136.7 771.2,135.5 771.4,135.2 771.6,138.1 771.9,138.9 772.6,139.1 772.8,140.1 773.0,141.4 773.3,142.9 773.5,141.7 774.2,142.2 774.5,139.5 774.7,137.4 774.9,136.3 775.2,148.6 775.9,158.0 776.1,157.8 776.3,153.0 776.6,149.7 776.8,144.1 777.5,142.5 777.8,140.0 778.0,138.1 778.2,135.4 778.5,133.2 779.2,133.0 779.4,130.4 779.6,130.3 779.9,129.8 780.1,127.9 780.8,127.4 781.1,126.8 781.3,125.2 781.5,124.5 781.8,124.9 782.5,125.5 782.7,126.3 782.9,124.6 783.2,126.5 783.4,125.7 784.1,127.2 784.4,128.2 784.6,128.6 784.8,128.2 785.1,127.0 785.8,124.7 786.0,125.5 786.2,123.7 786.5,122.3 786.7,121.7 787.4,122.2 787.7,121.7 787.9,122.5 788.1,122.7 788.4,123.4 789.1,123.4 789.3,122.7 789.5,121.9 789.8,122.8 790.0,122.2 790.7,121.7 791.0,122.8 791.2,121.7 791.4,123.4 791.7,123.4 792.4,123.4 792.6,122.6 792.8,122.9 793.1,128.0 793.3,133.6 794.0,134.4 794.3,133.8 794.5,134.0 794.7,133.3 795.0,131.0 795.7,130.4 795.9,129.3 796.1,128.3 796.4,124.5 796.6,124.0 797.3,124.1 797.6,126.9 797.8,127.2 798.0,127.7 798.3,127.9 799.0,127.9 799.2,128.9 799.4,128.4 799.7,128.0 799.9,128.4 800.6,129.5 800.9,130.8 801.1,130.6 801.3,132.7 801.6,132.3 802.3,132.6 802.5,133.2 802.7,132.3 803.0,131.7 803.2,131.0 803.9,129.2 804.2,132.8 804.4,134.6 804.6,135.8 804.9,136.4 805.6,139.5 805.8,140.2 806.0,141.5 806.3,141.4 806.5,141.6 807.2,137.8 807.5,131.9 807.7,128.8 807.9,126.3 808.2,125.8 808.9,126.1 809.1,125.2 809.3,126.7 809.6,125.8 809.8,124.3 810.5,122.1 810.8,121.6 811.0,118.9 811.2,118.8 811.5,118.0 812.2,120.8 812.4,122.2 812.6,122.5 812.9,122.0 813.1,119.4 813.8,119.0 814.1,116.4 814.3,113.9 814.5,112.3 814.8,110.4 815.5,108.9 815.7,107.7 815.9,110.5 816.2,111.2 816.4,110.1 817.1,108.8 817.4,109.7 817.6,111.2 817.8,112.0 818.1,111.4 818.8,111.4 819.0,112.7 819.2,112.8 819.5,113.6 819.7,113.5 820.4,112.1 820.7,112.1 820.9,110.1 821.1,107.3 821.4,106.8 822.1,107.1 822.3,106.3 822.5,106.9 822.8,107.9 823.0,107.3 823.7,107.3 824.0,107.3 824.2,107.3 824.4,107.3 824.7,107.8" fill="none" stroke="#0000FF" stroke-width="2.3" stroke-linejoin="round" stroke-linecap="round" filter="url(#lsh)"/>
<circle cx="824.3" cy="108.2" r="2.6" fill="#FF0000" stroke="#0000FF" stroke-width="0.8"/>
<g filter="url(#ash)"><line x1="267.4" y1="446.0" x2="264.1" y2="437.0" stroke="#000" stroke-width="1.15"/><polygon points="261.4,429.7 267.6,435.7 260.6,438.3" fill="#000"/></g><rect x="233.5" y="446.5" width="51.0" height="19.0" fill="#fff" stroke="#000" stroke-width="1.2" filter="url(#sh)"/><text x="234.8" y="459.8" font-size="13.2" font-weight="bold" fill="#C00000" textLength="45.9" lengthAdjust="spacingAndGlyphs">-15.99%</text><g filter="url(#ash)"><line x1="377.6" y1="414.0" x2="372.9" y2="405.7" stroke="#000" stroke-width="1.15"/><polygon points="369.1,398.9 376.2,403.9 369.7,407.5" fill="#000"/></g><rect x="344.5" y="414.5" width="51.0" height="19.5" fill="#fff" stroke="#000" stroke-width="1.2" filter="url(#sh)"/><text x="346.1" y="428.9" font-size="13.2" font-weight="bold" fill="#C00000" textLength="45.4" lengthAdjust="spacingAndGlyphs">-19.39%</text><g filter="url(#ash)"><line x1="433.3" y1="356.0" x2="430.5" y2="350.2" stroke="#000" stroke-width="1.15"/><polygon points="427.2,343.1 433.9,348.6 427.2,351.7" fill="#000"/></g><rect x="408.5" y="356.5" width="43.8" height="19.3" fill="#fff" stroke="#000" stroke-width="1.2" filter="url(#sh)"/><text x="410.4" y="369.8" font-size="13.2" font-weight="bold" fill="#C00000" textLength="38.7" lengthAdjust="spacingAndGlyphs">-9.94%</text><g filter="url(#ash)"><line x1="471.6" y1="331.0" x2="468.6" y2="324.7" stroke="#000" stroke-width="1.15"/><polygon points="465.3,317.7 472.0,323.2 465.3,326.3" fill="#000"/></g><rect x="446.6" y="331.5" width="44.1" height="19.0" fill="#fff" stroke="#000" stroke-width="1.2" filter="url(#sh)"/><text x="448.4" y="345.1" font-size="13.2" font-weight="bold" fill="#C00000" textLength="38.3" lengthAdjust="spacingAndGlyphs">-7.67%</text><g filter="url(#ash)"><line x1="523.1" y1="272.0" x2="519.9" y2="264.7" stroke="#000" stroke-width="1.15"/><polygon points="516.8,257.5 523.3,263.2 516.5,266.1" fill="#000"/></g><rect x="498.4" y="272.6" width="44.1" height="19.6" fill="#fff" stroke="#000" stroke-width="1.2" filter="url(#sh)"/><text x="500.2" y="286.9" font-size="13.2" font-weight="bold" fill="#C00000" textLength="38.8" lengthAdjust="spacingAndGlyphs">-5.76%</text><g filter="url(#ash)"><line x1="576.9" y1="232.0" x2="573.6" y2="224.7" stroke="#000" stroke-width="1.15"/><polygon points="570.4,217.6 577.0,223.2 570.2,226.2" fill="#000"/></g><rect x="552.2" y="232.8" width="43.4" height="19.4" fill="#fff" stroke="#000" stroke-width="1.2" filter="url(#sh)"/><text x="554.0" y="246.9" font-size="13.2" font-weight="bold" fill="#C00000" textLength="38.8" lengthAdjust="spacingAndGlyphs">-5.76%</text><g filter="url(#ash)"><line x1="661.7" y1="210.0" x2="660.3" y2="203.3" stroke="#000" stroke-width="1.15"/><polygon points="658.6,195.7 663.9,202.5 656.6,204.1" fill="#000"/></g><rect x="635.3" y="210.3" width="47.3" height="19.4" fill="#fff" stroke="#000" stroke-width="1.2" filter="url(#sh)"/><text x="636.9" y="223.9" font-size="13.2" font-weight="bold" fill="#C00000" textLength="39.0" lengthAdjust="spacingAndGlyphs">-7.40%</text><g filter="url(#ash)"><line x1="748.3" y1="214.0" x2="746.2" y2="207.2" stroke="#000" stroke-width="1.15"/><polygon points="744.0,199.7 749.8,206.1 742.7,208.2" fill="#000"/></g><rect x="719.3" y="214.1" width="51.1" height="19.5" fill="#fff" stroke="#000" stroke-width="1.2" filter="url(#sh)"/><text x="721.1" y="228.3" font-size="13.2" font-weight="bold" fill="#C00000" textLength="45.8" lengthAdjust="spacingAndGlyphs">-14.16%</text><rect x="28.5" y="92.5" width="153.1" height="28.0" fill="#fff" stroke="#000" stroke-width="1.2" filter="url(#sh)"/><text x="37.3" y="111.6" font-size="13.3" font-weight="bold" fill="#0000FF" textLength="130.9" lengthAdjust="spacingAndGlyphs">Jan 20 close: 2,271.31</text><rect x="740.3" y="596.5" width="105.6" height="27.7" fill="#fff" stroke="#000" stroke-width="1.2" filter="url(#sh)"/><text x="751.6" y="614.5" font-size="12" font-weight="bold" fill="#000" textLength="83.9" lengthAdjust="spacingAndGlyphs">Up 1.45% YTD</text><rect x="832.4" y="95.6" width="48.1" height="21.1" fill="#F2F2F2" stroke="#000" stroke-width="1.2" filter="url(#sh)"/><text x="834.2" y="109.9" font-size="12.6" font-weight="bold" fill="#008000" textLength="41.7" lengthAdjust="spacingAndGlyphs">236.6%</text><path d="M28.2,167.3 H158.6 V231.1 H82 L27.7,251.9 L50.2,231.1 H28.2 Z" fill="#FFFF99" stroke="#000" stroke-width="1.2" stroke-linejoin="miter" filter="url(#sh)"/><text x="54.6" y="185.8" font-size="12.8" font-weight="bold" fill="#0000FF" textLength="78.1" lengthAdjust="spacingAndGlyphs">Closing High:</text><text x="70.5" y="203.5" font-size="12.8" font-weight="bold" fill="#0000FF" textLength="45.3" lengthAdjust="spacingAndGlyphs">1565.15</text><text x="46.4" y="221.6" font-size="12.8" fill="#000" textLength="93.4" lengthAdjust="spacingAndGlyphs">October 9, 2007</text><path d="M169.2,584.2 H226.9 V603.6 H169.2 V591.7 L160.4,588 L169.2,587.1 Z" fill="#FFFF99" stroke="#000" stroke-width="1.2" filter="url(#sh)"/><text x="173.9" y="598.1" font-size="13.2" font-weight="bold" fill="#C00000" textLength="46.2" lengthAdjust="spacingAndGlyphs">-56.78%</text><line x1="169.8" y1="374.4" x2="169.8" y2="344.2" stroke="#000" stroke-width="1.9"/><polyline points="164.4,352.4 169.8,343.4 175.2,352.4" fill="none" stroke="#000" stroke-width="1.9" stroke-linejoin="miter"/><text x="129.3" y="388.7" font-size="13" fill="#000" textLength="75.3" lengthAdjust="spacingAndGlyphs">20% Decline</text><line x1="129.3" y1="391.4" x2="204.6" y2="391.4" stroke="#000" stroke-width="1"/>
</svg>
</body></html>
